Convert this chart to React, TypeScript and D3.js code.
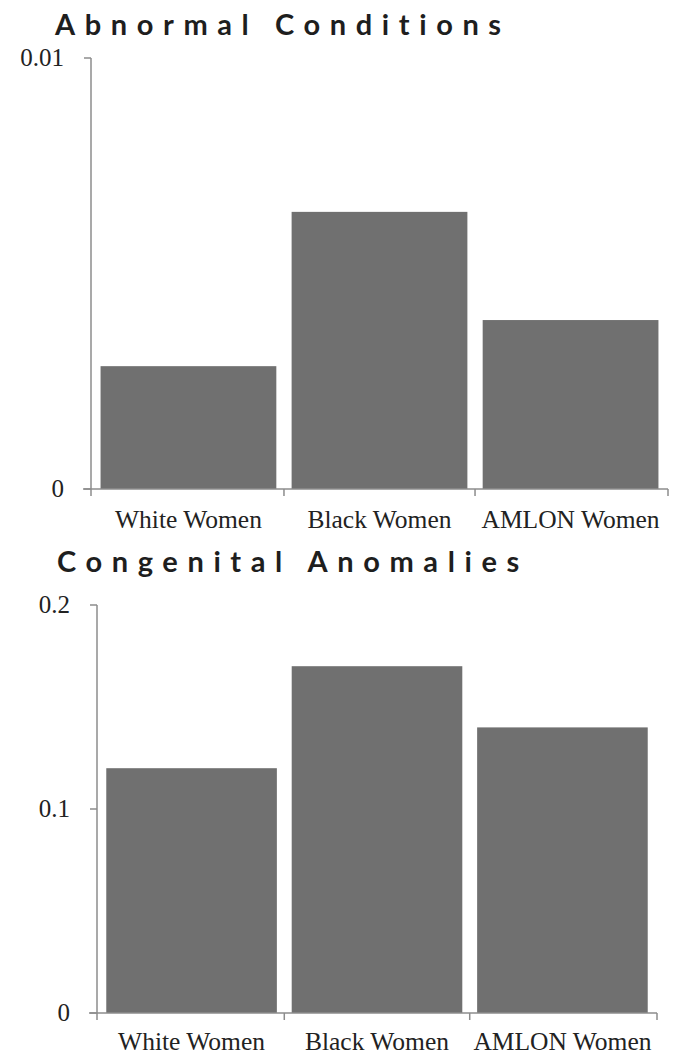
import * as d3 from 'd3';

const categories = ['White Women', 'Black Women', 'AMLON Women'];

const abnormalTitle = 'Abnormal Conditions';
const abnormalValues = [0.00285, 0.00643, 0.00392];
const abnormalTicks = [0, 0.01];

const congenitalTitle = 'Congenital Anomalies';
const congenitalValues = [0.12, 0.17, 0.14];
const congenitalTicks = [0, 0.1, 0.2];

type PanelProps = {
  title: string;
  values: number[];
  ticks: number[];
  titleX: number;
  titleY: number;
  left: number;
  right: number;
  top: number;
  bottom: number;
  labelY: number;
};

const barColor = '#707070';
const axisColor = '#8c8c8c';
const serif = '"Liberation Serif", "DejaVu Serif", serif';

function BarPanel({ title, values, ticks, titleX, titleY, left, right, top, bottom, labelY }: PanelProps) {
  const x = d3.scaleBand<string>()
    .domain(categories)
    .range([left, right])
    .paddingInner(0.08)
    .paddingOuter(0.05);
  const y = d3.scaleLinear()
    .domain([0, ticks[ticks.length - 1]])
    .range([bottom, top]);

  // excel-style ticks between the categories
  const gap = (x.step() * x.paddingInner()) / 2;
  const dividers = categories.map((c, i) => (i === 0 ? left : (x(c) as number) - gap)).concat([right]);

  return (
    <g>
      <text
        x={titleX}
        y={titleY}
        fontFamily="Lato, 'Open Sans', sans-serif"
        fontWeight={700}
        fontSize={29}
        letterSpacing={9.6}
        fill="#1e1e1e"
      >
        {title}
      </text>
      {values.map((v, i) => (
        <rect
          key={categories[i]}
          x={x(categories[i])}
          y={y(v)}
          width={x.bandwidth()}
          height={y(0) - y(v)}
          fill={barColor}
        />
      ))}
      <line x1={left} x2={left} y1={y(ticks[ticks.length - 1])} y2={y(0)} stroke={axisColor} strokeWidth={1.5} />
      <line x1={left - 8} x2={right} y1={y(0)} y2={y(0)} stroke={axisColor} strokeWidth={1.5} />
      {ticks.map((t) => (
        <g key={t}>
          <line x1={left - 7} x2={left} y1={y(t)} y2={y(t)} stroke={axisColor} strokeWidth={1.5} />
          <text
            x={left - 27}
            y={y(t)}
            dy="0.3em"
            textAnchor="end"
            fontFamily={serif}
            fontSize={25}
            fill="#222"
          >
            {String(t)}
          </text>
        </g>
      ))}
      {dividers.map((d, i) => (
        <line key={i} x1={d} x2={d} y1={y(0)} y2={y(0) + 7} stroke={axisColor} strokeWidth={1.5} />
      ))}
      {categories.map((c) => (
        <text
          key={c}
          x={(x(c) as number) + x.bandwidth() / 2}
          y={labelY}
          textAnchor="middle"
          fontFamily={serif}
          fontSize={25.5}
          fill="#222"
        >
          {c}
        </text>
      ))}
    </g>
  );
}

export default function App() {
  return (
    <div style={{ position: 'absolute', left: 0, top: 0 }}>
      <svg width={682} height={1059} style={{ display: 'block', background: '#fff' }}>
        <BarPanel
          title={abnormalTitle}
          values={abnormalValues}
          ticks={abnormalTicks}
          titleX={55}
          titleY={35}
          left={91}
          right={668}
          top={58}
          bottom={489}
          labelY={528}
        />
        <BarPanel
          title={congenitalTitle}
          values={congenitalValues}
          ticks={congenitalTicks}
          titleX={57}
          titleY={572}
          left={97}
          right={657}
          top={605}
          bottom={1013}
          labelY={1050}
        />
      </svg>
    </div>
  );
}
